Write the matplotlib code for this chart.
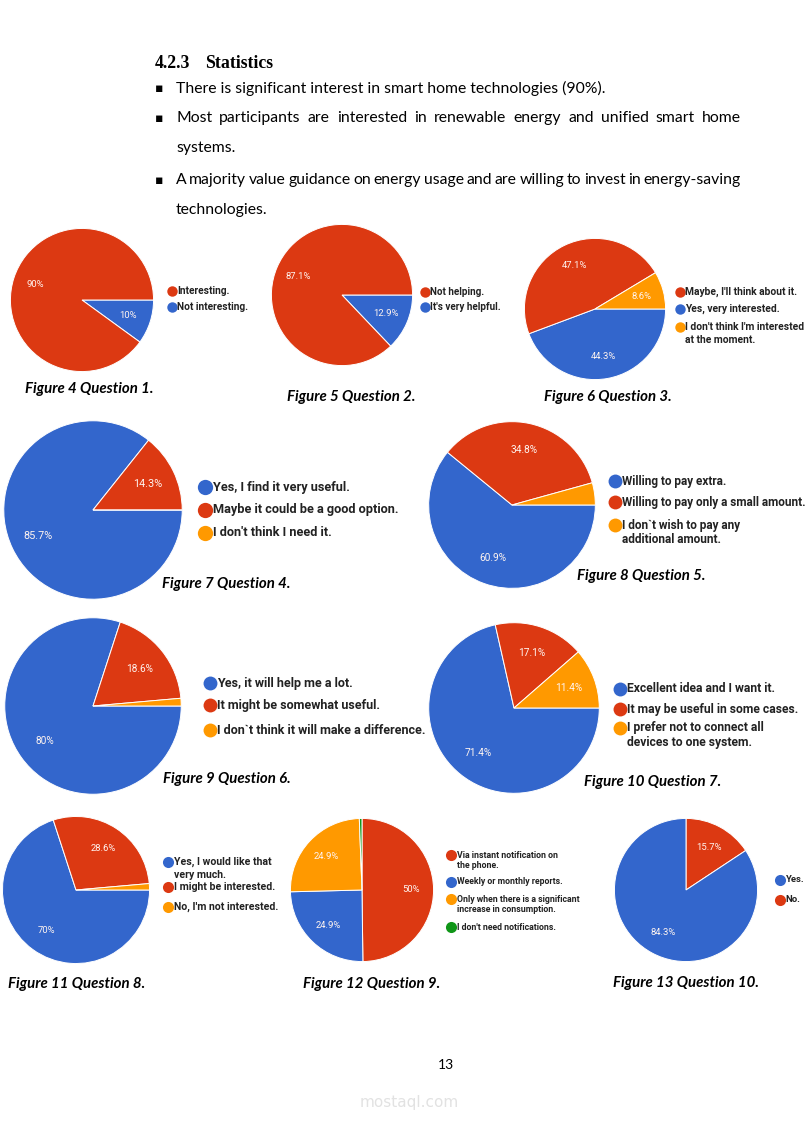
import matplotlib
matplotlib.use("Agg")
import matplotlib.pyplot as plt
import numpy as np
from matplotlib.lines import Line2D

W, H = 811, 1135

RED = "#dc3912"
BLUE = "#3366cc"
ORANGE = "#ff9900"
GREEN = "#109618"

# ---- survey data (legend order) ----
q1_labels = ["Interesting.", "Not interesting."]
q1_values = [90, 10]

q2_labels = ["Not helping.", "It's very helpful."]
q2_values = [87.1, 12.9]

q3_labels = ["Maybe, I'll think about it.", "Yes, very interested.",
             "I don't think I'm interested\nat the moment."]
q3_values = [47.1, 44.3, 8.6]

q4_labels = ["Yes, I find it very useful.", "Maybe it could be a good option.",
             "I don't think I need it."]
q4_values = [85.7, 14.3, 0]

q5_labels = ["Willing to pay extra.", "Willing to pay only a small amount.",
             "I don`t wish to pay any\nadditional amount."]
q5_values = [60.9, 34.8, 4.3]

q6_labels = ["Yes, it will help me a lot.", "It might be somewhat useful.",
             "I don`t think it will make a difference."]
q6_values = [80, 18.6, 1.4]

q7_labels = ["Excellent idea and I want it.", "It may be useful in some cases.",
             "I prefer not to connect all\ndevices to one system."]
q7_values = [71.4, 17.1, 11.4]

q8_labels = ["Yes, I would like that\nvery much.", "I might be interested.",
             "No, I'm not interested."]
q8_values = [70, 28.6, 1.4]

q9_labels = ["Via instant notification on\nthe phone.", "Weekly or monthly reports.",
             "Only when there is a significant\nincrease in consumption.",
             "I don't need notifications."]
q9_values = [50, 24.9, 24.9, 0.6]

q10_labels = ["Yes.", "No."]
q10_values = [84.3, 15.7]

bullets = [
    "There is significant interest in smart home technologies (90%).",
    "Most participants are interested in renewable energy and unified smart home",
    "systems.",
    "A majority value guidance on energy usage and are willing to invest in energy-saving",
    "technologies.",
]

# ---- layout ----
charts = [
    dict(labels=q1_labels, values=q1_values, colors=[RED, BLUE], order=[1, 0], start=0,
         c=(82, 300), r=73, lx=172, ly=[291, 307], fs=7.3, ms=7.5, pfs=6.8,
         cap="Figure 4 Question 1.", cxy=(25, 389)),
    dict(labels=q2_labels, values=q2_values, colors=[RED, BLUE], order=[1, 0], start=0,
         c=(342, 295), r=72, lx=425, ly=[292, 307], fs=7.1, ms=7.5, pfs=6.8,
         cap="Figure 5 Question 2.", cxy=(287, 397)),
    dict(labels=q3_labels, values=q3_values, colors=[RED, BLUE, ORANGE], order=[1, 0, 2], start=0,
         c=(595, 309), r=72, lx=680, ly=[292, 309, 327], fs=7.4, ms=7.5, pfs=6.8,
         cap="Figure 6 Question 3.", cxy=(544, 397)),
    dict(labels=q4_labels, values=q4_values, colors=[BLUE, RED, ORANGE], order=[0, 1, 2], start=0,
         c=(93, 510), r=91, lx=205, ly=[487, 510, 533], fs=9.2, ms=11, pfs=7.8,
         cap="Figure 7 Question 4.", cxy=(162, 584)),
    dict(labels=q5_labels, values=q5_values, colors=[BLUE, RED, ORANGE], order=[0, 1, 2], start=0,
         c=(512, 505), r=85, lx=615, ly=[481, 502, 525], fs=8.5, ms=10, pfs=7.3,
         cap="Figure 8 Question 5.", cxy=(577, 576)),
    dict(labels=q6_labels, values=q6_values, colors=[BLUE, RED, ORANGE], order=[0, 1, 2], start=0,
         c=(93, 706), r=90, lx=210, ly=[683, 705, 730], fs=9, ms=10, pfs=7.3,
         cap="Figure 9 Question 6.", cxy=(163, 779)),
    dict(labels=q7_labels, values=q7_values, colors=[BLUE, RED, ORANGE], order=[0, 1, 2], start=0,
         c=(514, 708), r=87, lx=620, ly=[689, 709, 728], fs=8.7, ms=10, pfs=7.3,
         cap="Figure 10 Question 7.", cxy=(584, 782)),
    dict(labels=q8_labels, values=q8_values, colors=[BLUE, RED, ORANGE], order=[0, 1, 2], start=0,
         c=(76, 890), r=75, lx=168, ly=[862, 887, 907], fs=7.6, ms=8, pfs=6.8,
         cap="Figure 11 Question 8.", cxy=(8, 984)),
    dict(labels=q9_labels, values=q9_values, colors=[RED, BLUE, ORANGE, GREEN], order=[0, 1, 2, 3],
         start=90, c=(362, 890), r=73, lx=451, ly=[855, 882, 899, 927], fs=6.3, ms=8, pfs=6.8,
         cap="Figure 12 Question 9.", cxy=(303, 984)),
    dict(labels=q10_labels, values=q10_values, colors=[BLUE, RED], order=[1, 0], start=90,
         c=(686, 890), r=73, lx=780, ly=[880, 900], fs=6.8, ms=8, pfs=6.8,
         cap="Figure 13 Question 10.", cxy=(613, 983)),
]

LEG_FONT = ["Roboto", "DejaVu Sans"]
BODY_FONT = ["Lato", "DejaVu Sans"]

fig = plt.figure(figsize=(W / 100, H / 100), dpi=100)
fig.patch.set_facecolor("white")


def px(x, y):
    return x / W, 1 - y / H


def fmt_pct(v):
    return f"{v:g}%"


for ch in charts:
    cx, cy = ch["c"]
    r = ch["r"]
    ax = fig.add_axes([(cx - r) / W, 1 - (cy + r) / H, 2 * r / W, 2 * r / H])
    vals = [ch["values"][i] for i in ch["order"]]
    cols = [ch["colors"][i] for i in ch["order"]]
    wedges, _ = ax.pie(vals, colors=cols, startangle=ch["start"], counterclock=False,
                       radius=1, wedgeprops=dict(edgecolor="white", linewidth=0.7))
    ax.set_xlim(-1.02, 1.02)
    ax.set_ylim(-1.02, 1.02)
    ax.set_aspect("equal")
    ax.axis("off")
    for w, v in zip(wedges, vals):
        if v < 5:
            continue
        th = np.deg2rad((w.theta1 + w.theta2) / 2)
        ax.text(0.68 * np.cos(th), 0.68 * np.sin(th), fmt_pct(v), ha="center", va="center",
                color="#fff4f0", fontsize=ch["pfs"], family=["Roboto", "DejaVu Sans"])

    # legend
    line_h = ch["fs"] * 1.7
    for lab, col, y in zip(ch["labels"], ch["colors"], ch["ly"]):
        fig.add_artist(Line2D([ch["lx"] / W], [1 - y / H], marker="o", markersize=ch["ms"],
                              color=col, markeredgewidth=0, linestyle="none",
                              transform=fig.transFigure))
        for k, part in enumerate(lab.split("\n")):
            fig.text(*px(ch["lx"] + ch["ms"] * 0.7, y + k * line_h), part, ha="left", va="center",
                     fontsize=ch["fs"], fontweight="bold", family=LEG_FONT, color="#222222")

    fig.text(*px(*ch["cxy"]), ch["cap"], ha="left", va="center", fontsize=10.8,
             fontweight="bold", style="italic", family=BODY_FONT, color="black")

# heading and bullets
fig.text(*px(155, 64), "4.2.3", ha="left", va="center", fontsize=12.8, fontweight="bold",
         family=["Liberation Serif"])
fig.text(*px(205, 64), "Statistics", ha="left", va="center", fontsize=12.8, fontweight="bold",
         family=["Liberation Serif"])

renderer = fig.canvas.get_renderer()


def justified(text, x0, x1, y, **kw):
    words = text.split()
    arts = [fig.text(0, 0, w, ha="left", va="center", **kw) for w in words]
    widths = [a.get_window_extent(renderer).width for a in arts]
    gap = (x1 - x0 - sum(widths)) / (len(words) - 1)
    x = x0
    for a, wd in zip(arts, widths):
        a.set_position(px(x, y))
        x += wd + gap


body_kw = dict(fontsize=11.3, family=BODY_FONT, color="black")
line_y = [88, 118, 148, 180, 210]
for i, (txt, y) in enumerate(zip(bullets, line_y)):
    if i in (0, 1, 3):
        fig.text(*px(155, y), "\u25aa", ha="left", va="center", fontsize=9, family=["DejaVu Sans"])
    if i in (1, 3):
        justified(txt, 176, 741, y, **body_kw)
    else:
        fig.text(*px(176, y), txt, ha="left", va="center", **body_kw)

fig.text(*px(446, 1065), "13", ha="center", va="center", fontsize=10, family=BODY_FONT)
fig.text(*px(409, 1103), "mostaql.com", ha="center", va="center", fontsize=11,
         family=["DejaVu Sans"], color="#e2e2e2")

fig.savefig("out.png", dpi=100, facecolor="white")
